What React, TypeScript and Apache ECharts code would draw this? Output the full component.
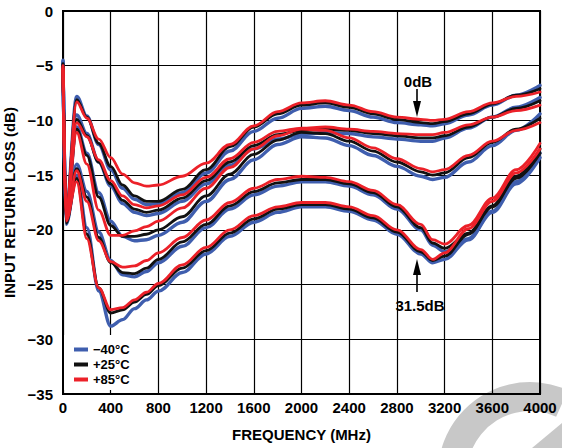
import React, { useEffect, useRef } from "react";
import * as echarts from "echarts";

// Frequency points (MHz)
const FREQ_MHZ = [0, 25, 115, 200, 300, 400, 500, 600, 700, 800, 1000, 1200, 1400, 1600, 1800, 2000, 2200, 2400, 2600, 2800, 3000, 3100, 3200, 3400, 3600, 3800, 4000];

// 0 dB state
const S0_COLD = [-4.5, -18.5, -7.8, -9.6, -12.2, -14.5, -16.2, -17.2, -17.7, -17.6, -16.6, -14.8, -12.8, -11.0, -9.8, -8.9, -8.7, -9.1, -9.7, -10.2, -10.4, -10.5, -10.3, -9.5, -8.6, -7.7, -6.8];
const S0_ROOM = [-4.8, -18.5, -8.1, -9.7, -12.1, -14.2, -15.9, -16.9, -17.4, -17.4, -16.3, -14.5, -12.4, -10.6, -9.4, -8.6, -8.4, -8.8, -9.4, -9.9, -10.2, -10.3, -10.1, -9.4, -8.5, -7.7, -7.1];
const S0_HOT = [-5.0, -18.3, -8.3, -9.8, -11.7, -13.4, -14.9, -15.7, -16.0, -15.9, -15.1, -13.9, -12.2, -10.5, -9.2, -8.4, -8.2, -8.6, -9.2, -9.7, -9.9, -10.0, -9.9, -9.2, -8.4, -7.8, -7.4];

// second state
const S1_COLD = [-4.6, -18.8, -9.5, -11.2, -13.8, -16.0, -17.6, -18.4, -18.7, -18.5, -17.4, -15.8, -14.1, -12.6, -11.7, -11.3, -11.1, -11.2, -11.5, -11.7, -11.9, -11.9, -11.6, -10.7, -9.7, -8.8, -7.9];
const S1_ROOM = [-4.9, -18.7, -9.9, -11.4, -13.8, -15.8, -17.3, -18.1, -18.4, -18.2, -17.1, -15.5, -13.8, -12.3, -11.3, -10.9, -10.8, -10.9, -11.2, -11.4, -11.6, -11.6, -11.4, -10.6, -9.7, -8.9, -8.2];
const S1_HOT = [-5.1, -18.5, -10.2, -11.5, -13.6, -15.5, -16.9, -17.7, -18.0, -17.8, -16.8, -15.2, -13.5, -12.0, -11.0, -10.7, -10.6, -10.8, -11.0, -11.2, -11.3, -11.3, -11.1, -10.4, -9.7, -9.1, -8.6];

// third state
const S2_COLD = [-4.7, -19.0, -10.6, -13.0, -16.6, -19.2, -20.6, -21.0, -20.9, -20.5, -19.3, -17.4, -15.4, -13.6, -12.2, -11.5, -11.6, -12.3, -13.2, -14.2, -15.1, -15.4, -15.2, -13.8, -12.3, -10.9, -9.4];
const S2_ROOM = [-5.0, -18.9, -10.8, -13.2, -17.0, -19.6, -20.6, -20.6, -20.4, -20.0, -18.8, -16.9, -14.9, -13.1, -11.8, -11.1, -11.2, -11.9, -12.8, -13.8, -14.7, -15.0, -14.8, -13.4, -12.0, -10.8, -9.8];
const S2_HOT = [-5.2, -18.7, -11.1, -14.0, -18.2, -20.5, -20.5, -20.1, -19.7, -19.2, -18.0, -16.2, -14.3, -12.6, -11.4, -10.8, -10.9, -11.6, -12.5, -13.5, -14.4, -14.7, -14.5, -13.2, -11.9, -10.9, -10.2];

// fourth state
const S3_COLD = [-4.8, -19.3, -14.0, -16.5, -20.2, -22.8, -24.1, -24.3, -23.8, -23.0, -21.5, -19.8, -18.1, -16.8, -16.0, -15.6, -15.6, -16.0, -16.8, -18.1, -20.0, -21.4, -22.0, -20.8, -18.3, -15.6, -13.0];
const S3_ROOM = [-5.1, -19.2, -14.4, -17.0, -20.7, -23.0, -23.9, -24.0, -23.5, -22.7, -21.1, -19.5, -17.8, -16.5, -15.7, -15.4, -15.4, -15.8, -16.6, -17.9, -19.8, -21.2, -21.7, -20.3, -17.8, -15.1, -12.6];
const S3_HOT = [-5.3, -19.0, -14.6, -17.4, -21.0, -22.9, -23.4, -23.3, -22.8, -22.1, -20.7, -19.1, -17.5, -16.2, -15.4, -15.1, -15.2, -15.6, -16.4, -17.7, -19.5, -20.9, -21.3, -19.6, -17.1, -14.5, -12.1];

// 31.5 dB state
const S4_COLD = [-4.9, -19.5, -15.0, -19.8, -25.6, -28.8, -28.2, -27.2, -26.4, -25.6, -23.9, -22.2, -20.6, -19.3, -18.4, -17.9, -17.9, -18.3, -19.1, -20.4, -22.2, -23.0, -22.7, -20.9, -18.4, -15.8, -13.4];
const S4_ROOM = [-5.2, -19.4, -15.3, -20.4, -25.3, -27.6, -27.3, -26.6, -25.9, -25.1, -23.5, -21.9, -20.3, -19.0, -18.1, -17.7, -17.7, -18.1, -18.9, -20.2, -22.0, -22.8, -22.4, -20.4, -17.9, -15.3, -13.0];
const S4_HOT = [-5.4, -19.2, -15.6, -20.8, -25.3, -27.3, -27.1, -26.4, -25.7, -24.9, -23.2, -21.6, -20.0, -18.7, -17.9, -17.5, -17.5, -17.9, -18.7, -20.0, -21.8, -22.7, -22.1, -19.9, -17.4, -14.8, -12.6];

const TEMP_NAMES = ["\u221240\u00B0C", "+25\u00B0C", "+85\u00B0C"];
const TEMP_COLORS = ["#3f5eae", "#111111", "#ec2129"];

const COLD_SET = [S0_COLD, S1_COLD, S2_COLD, S3_COLD, S4_COLD];
const ROOM_SET = [S0_ROOM, S1_ROOM, S2_ROOM, S3_ROOM, S4_ROOM];
const HOT_SET = [S0_HOT, S1_HOT, S2_HOT, S3_HOT, S4_HOT];

const FONT = "'Liberation Sans', Arial, Helvetica, sans-serif";

export default function App() {
  const ref = useRef<HTMLDivElement>(null);

  useEffect(() => {
    if (!ref.current) return;
    const chart = echarts.init(ref.current, null, { renderer: "svg" });

    const sets = [COLD_SET, ROOM_SET, HOT_SET];
    const series: any[] = [];
    sets.forEach((set, ti) => {
      set.forEach((vals) => {
        series.push({
          type: "line",
          name: TEMP_NAMES[ti],
          data: FREQ_MHZ.map((f, i) => [f, vals[i]]),
          showSymbol: false,
          symbol: "none",
          smooth: 0.35,
          smoothMonotone: "x",
          lineStyle: { color: TEMP_COLORS[ti], width: ti === 0 ? 3.4 : 2.8, cap: "round", join: "round" },
          itemStyle: { color: TEMP_COLORS[ti] },
          emphasis: { disabled: true },
          z: 2,
        });
      });
    });

    const labelStyle = { color: "#000", fontWeight: "bold", fontSize: 15, fontFamily: FONT };
    const arrowStyle = { stroke: "#000", lineWidth: 1.6 };

    chart.setOption({
      animation: false,
      backgroundColor: "#fff",
      grid: {
        left: 63,
        right: 22,
        top: 11,
        bottom: 54,
        show: true,
        borderColor: "#000",
        borderWidth: 2,
        backgroundColor: "transparent",
        containLabel: false,
        outerBoundsMode: "none",
      },
      xAxis: {
        type: "value",
        min: 0,
        max: 4000,
        interval: 400,
        axisLine: { show: true, onZero: false, lineStyle: { color: "#000", width: 2 } },
        axisTick: { show: false },
        splitLine: { show: true, lineStyle: { color: "#000", width: 1.2 } },
        axisLabel: { ...labelStyle, margin: 6, formatter: (v: number) => String(v) },
        name: "FREQUENCY (MHz)",
        nameLocation: "middle",
        nameGap: 33,
        nameTextStyle: { ...labelStyle },
      },
      yAxis: {
        type: "value",
        min: -35,
        max: 0,
        interval: 5,
        axisLine: { show: true, onZero: false, lineStyle: { color: "#000", width: 2 } },
        axisTick: { show: false },
        splitLine: { show: true, lineStyle: { color: "#000", width: 1.2 } },
        axisLabel: {
          ...labelStyle,
          margin: 10,
          formatter: (v: number) => (v < 0 ? "\u2212" + Math.abs(v) : String(v)),
        },
        name: "INPUT RETURN LOSS (dB)",
        nameLocation: "middle",
        nameGap: 42,
        nameRotate: 90,
        nameTextStyle: { ...labelStyle },
      },
      legend: {
        show: true,
        data: TEMP_NAMES,
        orient: "vertical",
        left: 64,
        top: 335,
        backgroundColor: "#fff",
        padding: [7, 10, 3, 10],
        itemWidth: 14,
        itemHeight: 4,
        itemGap: 0,
        icon: "rect",
        selectedMode: false,
        textStyle: { ...labelStyle, fontSize: 13, lineHeight: 15 },
        z: 10,
      },
      graphic: [
        {
          type: "sector",
          z: -1,
          silent: true,
          shape: { cx: 530, cy: 474, r0: 63, r: 92, startAngle: Math.PI * 0.8, endAngle: 5.14, clockwise: true },
          style: { fill: "#c8c8c8" },
        },
        {
          type: "polygon",
          z: -1,
          silent: true,
          shape: { points: [[532, 448], [562, 423], [562, 448]] },
          style: { fill: "#c8c8c8" },
        },
        {
          type: "text",
          z: 100,
          x: 418,
          y: 81,
          style: { text: "0dB", fill: "#000", font: `bold 15px ${FONT}`, align: "center", verticalAlign: "middle", textAlign: "center", textVerticalAlign: "middle" },
        },
        { type: "line", z: 100, shape: { x1: 417, y1: 89, x2: 417, y2: 103 }, style: arrowStyle },
        { type: "polygon", z: 100, shape: { points: [[413, 101], [421, 101], [417, 117]] }, style: { fill: "#000" } },
        {
          type: "text",
          z: 100,
          x: 420,
          y: 305,
          style: { text: "31.5dB", fill: "#000", font: `bold 15px ${FONT}`, align: "center", verticalAlign: "middle", textAlign: "center", textVerticalAlign: "middle" },
        },
        { type: "line", z: 100, shape: { x1: 417, y1: 273, x2: 417, y2: 292 }, style: arrowStyle },
        { type: "polygon", z: 100, shape: { points: [[413, 275], [421, 275], [417, 259]] }, style: { fill: "#000" } },
      ],
      series,
    });

    return () => chart.dispose();
  }, []);

  return (
    <div
      ref={ref}
      style={{ position: "fixed", left: 0, top: 0, width: 562, height: 448, background: "#fff" }}
    />
  );
}
